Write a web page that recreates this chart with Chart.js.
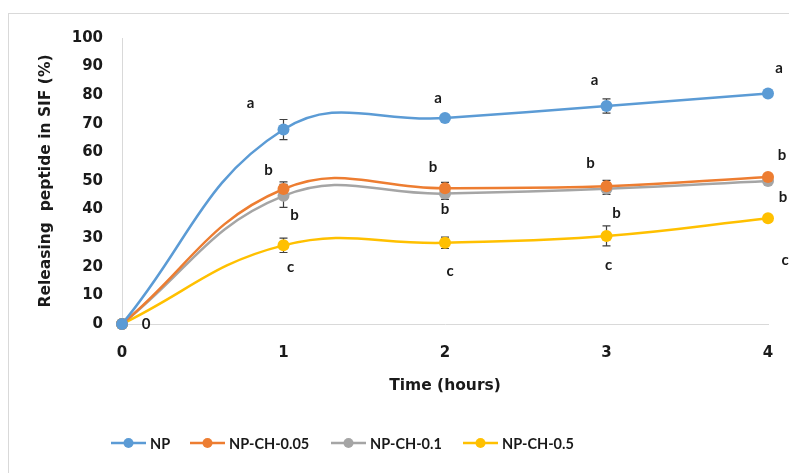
<!DOCTYPE html>
<html><head><meta charset="utf-8">
<script src="https://cdn.jsdelivr.net/npm/chart.js@4.4.1/dist/chart.umd.min.js"></script>
<style>
html,body{margin:0;padding:0;background:#fff;overflow:hidden;}
#wrap{position:relative;width:789px;height:473px;}
#frame{position:absolute;left:8px;top:13px;width:900px;height:600px;border:1px solid #d9d9d9;box-sizing:border-box;}
canvas{position:absolute;left:0;top:0;}
</style></head>
<body><div id="wrap"><div id="frame"></div><canvas id="c" width="789" height="473"></canvas></div>
<script>
const times = [0, 1, 2, 3, 4];
const seriesNames = ['NP', 'NP-CH-0.05', 'NP-CH-0.1', 'NP-CH-0.5'];
const npValues = [0, 68, 72, 76.2, 80.6];
const ch005Values = [0, 47.2, 47.5, 48.2, 51.4];
const ch01Values = [0, 44.8, 45.6, 47.3, 50];
const ch05Values = [0, 27.5, 28.4, 30.8, 37];
const npErr = [0, 3.5, 1, 2.5, 0];
const ch005Err = [0, 2.5, 2, 2, 0];
const ch01Err = [0, 4, 2, 2, 1];
const ch05Err = [0, 2.5, 2, 3.5, 0];
const npLetters = ['', 'a', 'a', 'a', 'a'];
const ch005Letters = ['', 'b', 'b', 'b', 'b'];
const ch01Letters = ['', 'b', 'b', 'b', 'b'];
const ch05Letters = ['0', 'c', 'c', 'c', 'c'];
const yTicks = [0, 10, 20, 30, 40, 50, 60, 70, 80, 90, 100];
const xTicks = [0, 1, 2, 3, 4];

const colors = ['#5B9BD5', '#ED7D31', '#A5A5A5', '#FFC000'];
const allValues = [npValues, ch005Values, ch01Values, ch05Values];
const allErr = [npErr, ch005Err, ch01Err, ch05Err];
const allLetters = [npLetters, ch005Letters, ch01Letters, ch05Letters];
// pixel offsets of letter labels relative to each point (style, not data)
const letterOffsets = [
  [[0,0], [-33,-26], [-7,-20], [-12,-26], [11,-25]],
  [[0,0], [-15,-19], [-12,-21], [-16,-23], [14,-22]],
  [[0,0], [11,19], [0,16], [10,24], [15,16]],
  [[24,0], [7,22], [5,28], [2,29], [17,42]]
];
const FONT = 'Lato, "Open Sans", "Liberation Sans", sans-serif';
const WIDE = '"DejaVu Sans", "Liberation Sans", sans-serif';
const TEXT = '#1a1a1a';

const datasets = seriesNames.map((n, i) => ({
  label: n,
  data: times.map((t, k) => ({x: t, y: allValues[i][k]})),
  borderColor: colors[i],
  backgroundColor: colors[i],
  borderWidth: 2.5,
  pointRadius: 6,
  pointBorderWidth: 0,
  pointHoverRadius: 6,
  tension: 0.42,
  clip: false,
  fill: false
}));

const extras = {
  id: 'extras',
  beforeDatasetsDraw(chart) {
    const ctx = chart.ctx;
    const xs = chart.scales.x, ys = chart.scales.y;
    ctx.save();
    ctx.strokeStyle = '#404040';
    ctx.lineWidth = 1.2;
    allErr.forEach((errs, i) => {
      errs.forEach((e, k) => {
        if (!e) return;
        const px = xs.getPixelForValue(times[k]);
        const top = ys.getPixelForValue(allValues[i][k] + e);
        const bot = ys.getPixelForValue(allValues[i][k] - e);
        ctx.beginPath();
        ctx.moveTo(px, top); ctx.lineTo(px, bot);
        ctx.moveTo(px - 4, top); ctx.lineTo(px + 4, top);
        ctx.moveTo(px - 4, bot); ctx.lineTo(px + 4, bot);
        ctx.stroke();
      });
    });
    ctx.restore();
  },
  afterDatasetsDraw(chart) {
    const ctx = chart.ctx;
    const xs = chart.scales.x, ys = chart.scales.y;
    ctx.save();
    ctx.fillStyle = TEXT;
    ctx.font = 'bold 15px ' + FONT;
    ctx.textAlign = 'center';
    ctx.textBaseline = 'middle';
    allLetters.forEach((ls, i) => {
      ls.forEach((l, k) => {
        if (!l) return;
        const px = xs.getPixelForValue(times[k]);
        const py = ys.getPixelForValue(allValues[i][k]);
        const o = letterOffsets[i][k];
        ctx.fillText(l, px + o[0], py + o[1]);
      });
    });
    // legend
    const legendX = [111, 190, 331, 463];
    const legendY = 443;
    ctx.textAlign = 'left';
    ctx.font = 'bold 14.5px ' + FONT;
    seriesNames.forEach((n, i) => {
      const x0 = legendX[i];
      ctx.strokeStyle = colors[i];
      ctx.fillStyle = colors[i];
      ctx.lineWidth = 2.5;
      ctx.beginPath(); ctx.moveTo(x0, legendY); ctx.lineTo(x0 + 35, legendY); ctx.stroke();
      ctx.beginPath(); ctx.arc(x0 + 17.5, legendY, 5, 0, Math.PI * 2); ctx.fill();
      ctx.fillStyle = TEXT;
      ctx.fillText(n, x0 + 39, legendY + 1);
    });
    ctx.restore();
  }
};

new Chart(document.getElementById('c'), {
  type: 'line',
  data: { datasets },
  options: {
    responsive: false,
    animation: false,
    layout: { padding: { top: 38, right: 21, left: 33, bottom: 78 } },
    plugins: { legend: { display: false }, tooltip: { enabled: false } },
    scales: {
      x: {
        type: 'linear', min: 0, max: 4,
        afterBuildTicks(s) { s.ticks = xTicks.map(v => ({value: v})); },
        afterFit(s) { s.height = 473 - 78 - 324; s.paddingLeft = 0; s.paddingRight = 0; },
        grid: { display: false, drawTicks: false },
        border: { display: true, color: '#d9d9d9', width: 1 },
        ticks: { color: TEXT, font: { family: WIDE, size: 15, weight: 'bold' }, padding: 20 },
        title: { display: true, text: 'Time (hours)', color: TEXT, font: { family: WIDE, size: 15.5, weight: 'bold' }, padding: { top: 12, bottom: 0 } }
      },
      y: {
        min: 0, max: 100,
        afterBuildTicks(s) { s.ticks = yTicks.map(v => ({value: v})); },
        afterFit(s) { s.width = 122 - 33; s.paddingTop = 0; s.paddingBottom = 0; },
        grid: { display: false, drawTicks: false },
        border: { display: true, color: '#d9d9d9', width: 1 },
        ticks: { color: TEXT, font: { family: WIDE, size: 15, weight: 'bold' }, padding: 19 },
        title: { display: true, text: 'Releasing  peptide in SIF (%)', color: TEXT, font: { family: WIDE, size: 15.5, weight: 'bold' }, padding: { bottom: 0 } }
      }
    }
  },
  plugins: [extras]
});
</script></body></html>
